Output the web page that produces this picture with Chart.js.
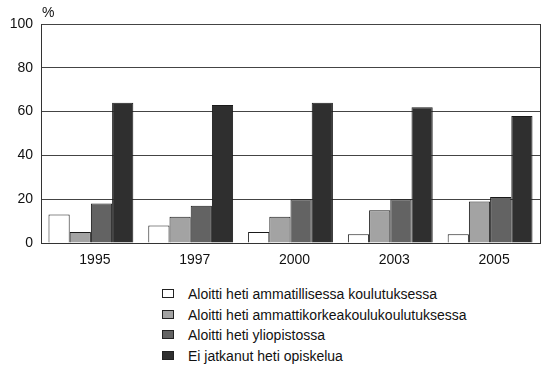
<!DOCTYPE html>
<html>
<head>
<meta charset="utf-8">
<script src="https://cdn.jsdelivr.net/npm/chart.js@4.4.1/dist/chart.umd.min.js"></script>
<style>
  html, body { margin: 0; padding: 0; background: #fff; }
  #wrap { position: relative; width: 546px; height: 369px; font-family: "Liberation Sans", Arial, sans-serif; }
  #chart-box { position: absolute; left: 0; top: 0; width: 546px; height: 282px; }
  #legend { position: absolute; left: 162px; top: 284px; margin: 0; padding: 0; list-style: none; }
  #legend li { height: 20.5px; line-height: 20.5px; font-size: 14px; color: #111; white-space: nowrap; }
  #legend .swatch { display: inline-block; width: 10px; height: 7px; border: 1px solid #222; margin-right: 14px; vertical-align: 1px; }
</style>
</head>
<body>
<div id="wrap">
  <div id="chart-box"><canvas id="chart"></canvas></div>
  <ul id="legend"></ul>
</div>
<script>
const years = ['1995', '1997', '2000', '2003', '2005'];

const seriesLabels = [
  'Aloitti heti ammatillisessa koulutuksessa',
  'Aloitti heti ammattikorkeakoulukoulutuksessa',
  'Aloitti heti yliopistossa',
  'Ei jatkanut heti opiskelua',
];

const vocational = [13, 8, 5, 4, 4];
const polytechnic = [5, 12, 12, 15, 19];
const university = [18, 17, 20, 20, 21];
const noStudies = [64, 63, 64, 62, 58];

const yTicks = [0, 20, 40, 60, 80, 100];

const fills = ['#ffffff', '#a3a3a3', '#636363', '#2f2f2f'];
const edge = '#1a1a1a';

const FONT = { family: '"Liberation Sans", Arial, sans-serif', size: 14 };

// frame the plot area on the right side and mark the unit above the y axis
const framePlugin = {
  id: 'frame',
  afterDraw(chart) {
    const { ctx, chartArea: a } = chart;
    ctx.save();
    ctx.strokeStyle = '#333';
    ctx.lineWidth = 1;
    ctx.beginPath();
    ctx.moveTo(Math.round(a.right) + 0.5, a.top);
    ctx.lineTo(Math.round(a.right) + 0.5, a.bottom);
    ctx.stroke();
    ctx.fillStyle = '#111';
    ctx.font = `14px ${FONT.family}`;
    ctx.textAlign = 'left';
    ctx.textBaseline = 'alphabetic';
    ctx.fillText('%', a.left + 1, a.top - 7);
    ctx.restore();
  },
};

const values = [vocational, polytechnic, university, noStudies];

const chart = new Chart(document.getElementById('chart'), {
  type: 'bar',
  data: {
    labels: years,
    datasets: values.map((data, i) => ({
      label: seriesLabels[i],
      data,
      backgroundColor: fills[i],
      borderColor: edge,
      borderWidth: 1,
      borderSkipped: 'bottom',
      categoryPercentage: 0.85,
      barPercentage: 1.0,
    })),
  },
  options: {
    responsive: true,
    maintainAspectRatio: false,
    animation: false,
    layout: { padding: { top: 24, right: 6, left: 0, bottom: 0 } },
    plugins: {
      legend: { display: false },
      tooltip: { enabled: false },
    },
    scales: {
      x: {
        grid: { display: false, drawTicks: false },
        border: { display: true, color: '#333', width: 1 },
        ticks: { color: '#111', font: FONT, padding: 9, labelOffset: 4 },
        afterFit(scale) { scale.height = 39; },
      },
      y: {
        min: 0,
        max: 100,
        afterBuildTicks(scale) { scale.ticks = yTicks.map(v => ({ value: v })); },
        grid: { color: '#444', lineWidth: 1, drawTicks: false },
        border: { display: true, color: '#333', width: 1 },
        ticks: { color: '#111', font: FONT, padding: 8 },
        afterFit(scale) { scale.width = 41; },
      },
    },
  },
  plugins: [framePlugin],
});

// vertical legend list under the plot
const legend = document.getElementById('legend');
legend.innerHTML = chart.data.datasets.map(ds =>
  `<li><span class="swatch" style="background:${ds.backgroundColor}"></span>${ds.label}</li>`
).join('');
</script>
</body>
</html>
